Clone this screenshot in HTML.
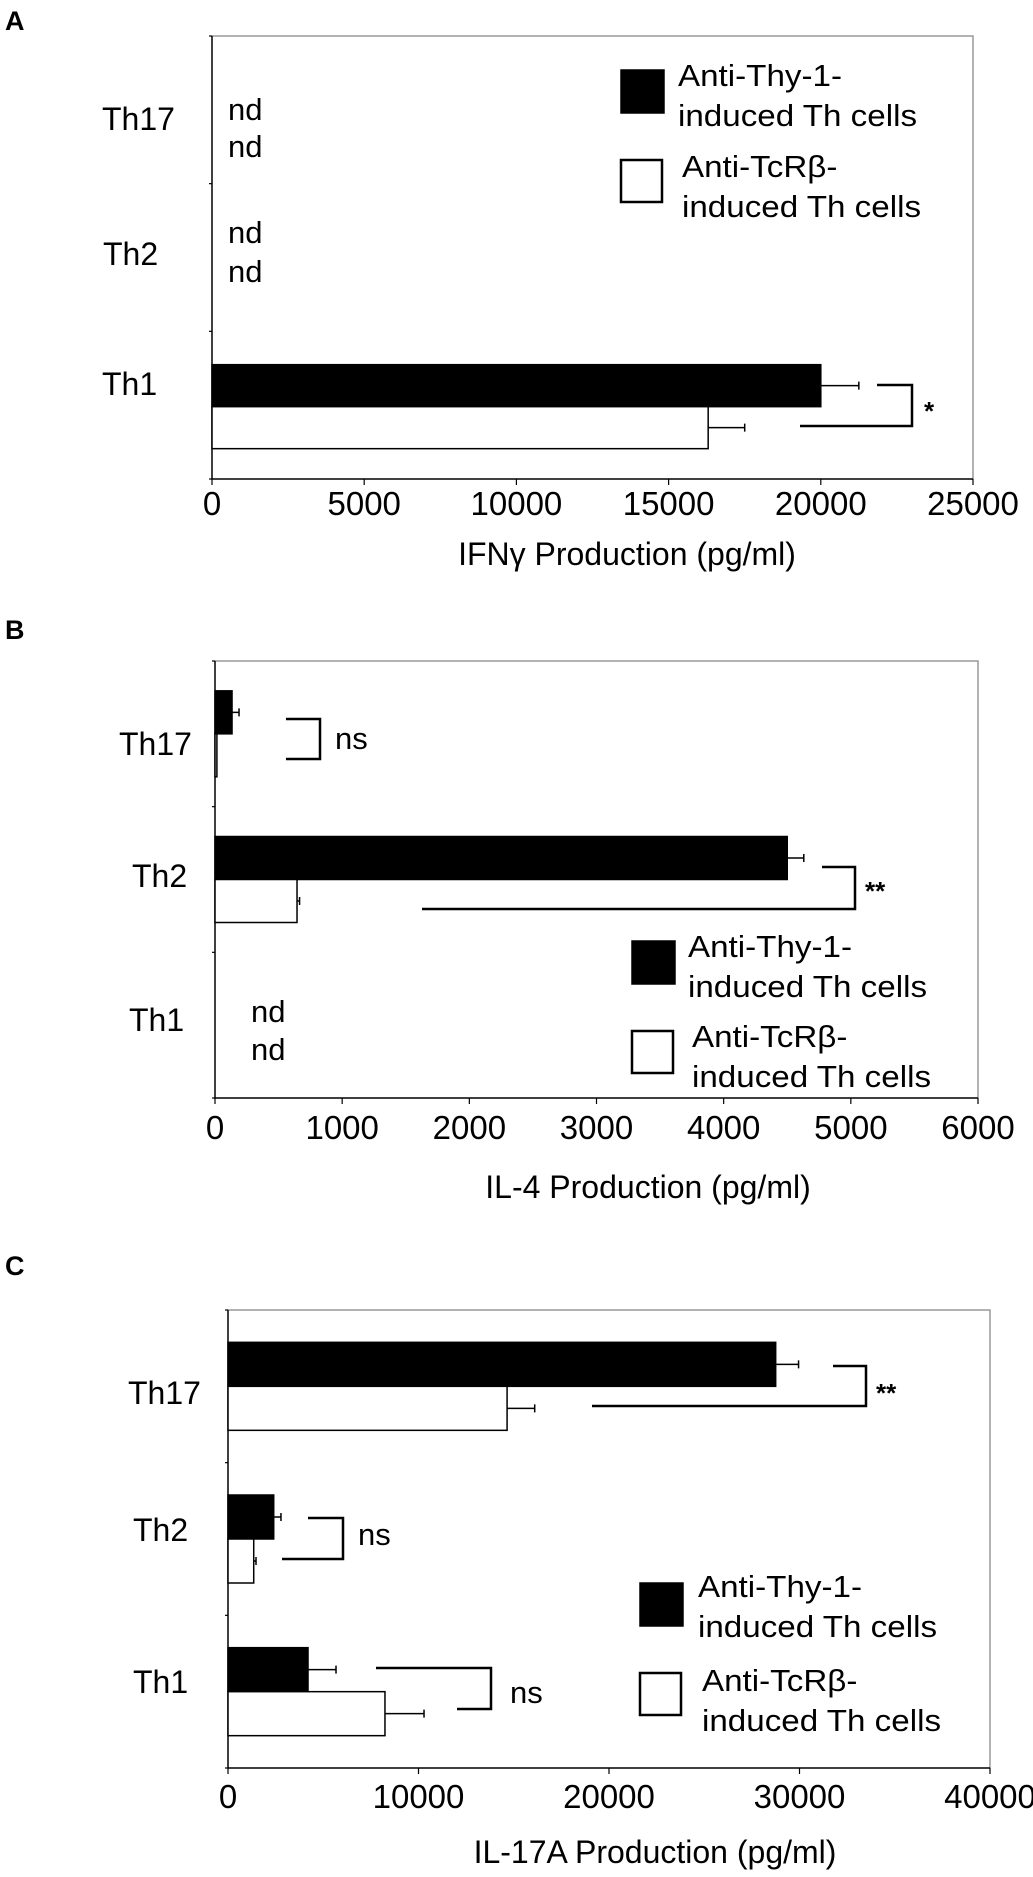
<!DOCTYPE html>
<html><head><meta charset="utf-8">
<style>
html,body{margin:0;padding:0;background:#fff;}
svg{display:block;}
text{font-family:"Liberation Sans",Arial,sans-serif;fill:#000;}
</style></head>
<body>
<svg id="fig" width="1033" height="1877" viewBox="0 0 1033 1877" xmlns="http://www.w3.org/2000/svg"></svg>
<script>
// categories top to bottom
const cats = ["Th17","Th2","Th1"];
// Panel A: IFNγ
const aThy = [null, null, 20000];
const aThyErr = [null, null, 21250];
const aTcr = [null, null, 16300];
const aTcrErr = [null, null, 17500];
const aTicks = [0,5000,10000,15000,20000,25000];
// Panel B: IL-4
const bThy = [134, 4500, null];
const bThyErr = [189, 4630, null];
const bTcr = [15, 645, null];
const bTcrErr = [15, 665, null];
const bTicks = [0,1000,2000,3000,4000,5000,6000];
// Panel C: IL-17A
const cThy = [28750, 2400, 4200];
const cThyErr = [29950, 2780, 5670];
const cTcr = [14650, 1350, 8240];
const cTcrErr = [16100, 1470, 10290];
const cTicks = [0,10000,20000,30000,40000];

const NS="http://www.w3.org/2000/svg";
const svg=document.getElementById('fig');
function el(tag,attrs,parent){const e=document.createElementNS(NS,tag);for(const k in attrs)e.setAttribute(k,attrs[k]);(parent||svg).appendChild(e);return e;}
function txt(x,y,s,opts,parent){
  opts=opts||{};
  const t=el('text',{x:0,y:0,'font-size':opts.size||32,'text-anchor':opts.anchor||'start','font-weight':opts.bold?'bold':'normal',transform:`translate(${x},${y}) scale(${opts.sx||1},1)`},parent);
  t.textContent=s;return t;
}

function panel(cfg){
  const g=el('g',{});
  
  
  const {L,R,T,B,max,bh}=cfg;
  const xs=v=>L+(R-L)*v/max;
  const bandH=(B-T)/cats.length;
  const lt=txt(5,cfg.letterY,cfg.letter,{size:27,bold:true},g);
  
  
  const fr=el('path',{d:`M${L},${T} H${R} V${B}`,fill:'none',stroke:'#999','stroke-width':1.5},g);
  
  
  const ax=el('path',{d:`M${L},${T} V${B} H${R}`,fill:'none',stroke:'#000','stroke-width':1.5},g);
  
  
  for(let i=0;i<=cats.length;i++){el('line',{x1:L-3,x2:L,y1:T+bandH*i,y2:T+bandH*i,stroke:'#000','stroke-width':1.2},g);}
  cfg.ticks.forEach(v=>{
    el('line',{x1:xs(v),x2:xs(v),y1:B,y2:B+6,stroke:'#000','stroke-width':1.2},g);
    const t=txt(xs(v),cfg.tickY,String(v),{anchor:'middle',size:33},g);
    
    
  });
  const xt=txt(cfg.titleX,cfg.titleY,cfg.title,{anchor:'middle',size:32},g);
  
  
  cats.forEach((c,i)=>{
    const mid=T+bandH*i+bandH/2+cfg.off;
    const cl=txt(cfg.labelX[i],cfg.labelY[i],c,{size:32},g);
    
    
    const series=[[cfg.thy,cfg.thyErr,'#000',mid-bh,'thy',0],[cfg.tcr,cfg.tcrErr,'#fff',mid,'tcr',1]];
    series.forEach(([vals,errs,fill,y,key,si])=>{
      const v=vals[i];
      if(v===null){
        const nd=txt(cfg.ndX,cfg.ndY[i][si],'nd',{size:31},g);
        
        
        return;
      }
      const r=el('rect',{x:L,y:y,width:Math.max(xs(v)-L,1),height:bh,fill:fill,stroke:'#000','stroke-width':1.5},g);
      
      
      const e=errs[i];
      if(e!==null && e>v){
        const ey=y+bh/2;
        const eb=el('path',{d:`M${xs(v)},${ey} H${xs(e)} M${xs(e)},${ey-4} V${ey+4}`,stroke:'#000','stroke-width':1.5,fill:'none'},g);
        
        
      }
    });
  });
  cfg.brackets.forEach(b=>{
    const p=el('path',{d:`M${b.x1},${b.y1} H${b.xv} V${b.y2} H${b.x2}`,fill:'none',stroke:'#000','stroke-width':2.5},g);
    
    
    const isNs=b.label==='ns';
    const t=txt(b.lx,b.ly,b.label,{size:isNs?31:26,bold:!isNs},g);
    
    
  });
  const lg=el('g',{},g);
  
  
  const l=cfg.legend;
  const b1=el('rect',{x:l.x,y:l.y1,width:43,height:43,fill:'#000',stroke:'#000','stroke-width':1.5},lg);
  
  
  txt(l.tx,l.ty1,'Anti-Thy-1-',{size:31,sx:1.07},lg);
  txt(l.tx,l.ty1+40,'induced Th cells',{size:31,sx:1.07},lg);
  const b2=el('rect',{x:l.x,y:l.y2,width:41,height:42,fill:'#fff',stroke:'#000','stroke-width':2.5},lg);
  
  
  txt(l.tx+4,l.ty2,'Anti-TcRβ-',{size:31,sx:1.07},lg);
  txt(l.tx+4,l.ty2+40,'induced Th cells',{size:31,sx:1.07},lg);
}

panel({name:'panel-a-ifng',letter:'A',letterY:30,L:212,R:973,T:36,B:479,max:25000,off:1.5,bh:42,
  ticks:aTicks,tickY:515,title:'IFNγ Production (pg/ml)',titleX:627,titleY:565,
  thy:aThy,thyErr:aThyErr,tcr:aTcr,tcrErr:aTcrErr,
  labelX:[102,103,102],labelY:[130,265,395],
  ndX:228,ndY:[[120,157],[243,282],null],
  brackets:[{x1:877,y1:385,xv:912,y2:426,x2:800,label:'*',lx:924,ly:420}],
  legend:{x:621,y1:70,y2:160,tx:678,ty1:86,ty2:177}});

panel({name:'panel-b-il4',letter:'B',letterY:639,L:215,R:978,T:661,B:1098,max:6000,off:0,bh:43,
  ticks:bTicks,tickY:1139,title:'IL-4 Production (pg/ml)',titleX:648,titleY:1198,
  thy:bThy,thyErr:bThyErr,tcr:bTcr,tcrErr:bTcrErr,
  labelX:[119,132,129],labelY:[755,887,1031],
  ndX:251,ndY:[null,null,[1022,1060]],
  brackets:[{x1:286,y1:719,xv:320,y2:759,x2:286,label:'ns',lx:335,ly:749},
            {x1:822,y1:867,xv:855,y2:909,x2:422,label:'**',lx:865,ly:900}],
  legend:{x:632,y1:941,y2:1031,tx:688,ty1:957,ty2:1047}});

panel({name:'panel-c-il17a',letter:'C',letterY:1275,L:228,R:990,T:1310,B:1768,max:40000,off:0,bh:44,
  ticks:cTicks,tickY:1808,title:'IL-17A Production (pg/ml)',titleX:655,titleY:1863,
  thy:cThy,thyErr:cThyErr,tcr:cTcr,tcrErr:cTcrErr,
  labelX:[128,133,133],labelY:[1404,1541,1693],
  ndX:250,ndY:[null,null,null],
  brackets:[{x1:833,y1:1366,xv:866,y2:1406,x2:592,label:'**',lx:876,ly:1402},
            {x1:308,y1:1518,xv:343,y2:1559,x2:282,label:'ns',lx:358,ly:1545},
            {x1:376,y1:1668,xv:491,y2:1709,x2:457,label:'ns',lx:510,ly:1703}],
  legend:{x:640,y1:1583,y2:1673,tx:698,ty1:1597,ty2:1691}});
</script>
</body></html>
